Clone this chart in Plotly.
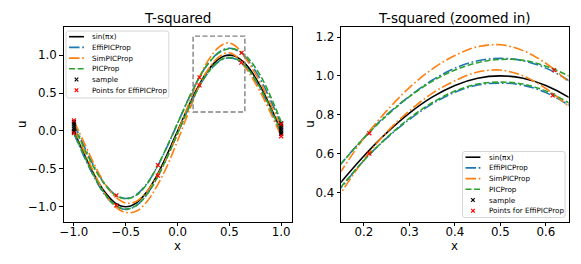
import plotly.graph_objects as go

# ---------------- data ----------------
X = [-1.0, -0.9, -0.8, -0.7, -0.6, -0.5, -0.4, -0.3, -0.2, -0.1, 0.0, 0.1, 0.15, 0.2,
     0.25, 0.3, 0.35, 0.4, 0.45, 0.5, 0.55, 0.6, 0.65, 0.7, 0.8, 0.9, 1.0]
EXACT = [0.0, -0.309, -0.588, -0.809, -0.951, -1.0, -0.951, -0.809, -0.588, -0.309, 0.0, 0.309,
         0.454, 0.588, 0.707, 0.809, 0.891, 0.951, 0.988, 1.0, 0.988, 0.951, 0.891, 0.809, 0.588, 0.309, 0.0]
EFFI_UP = [0.10, -0.206, -0.482, -0.701, -0.842, -0.89, -0.842, -0.701, -0.482, -0.206, 0.10, 0.406,
           0.549, 0.682, 0.80, 0.895, 0.978, 1.04, 1.078, 1.09, 1.078, 1.04, 0.977, 0.895, 0.68, 0.40, 0.09]
EFFI_LO = [-0.035, -0.344, -0.623, -0.844, -0.986, -1.035, -0.986, -0.844, -0.623, -0.344, -0.035, 0.28,
           0.425, 0.565, 0.68, 0.776, 0.856, 0.916, 0.953, 0.963, 0.952, 0.914, 0.85, 0.77, 0.55, 0.27, -0.04]
SIM_UP = [0.13, -0.16, -0.45, -0.70, -0.87, -0.95, -0.93, -0.81, -0.60, -0.34, -0.02, 0.33,
          0.51, 0.68, 0.82, 0.94, 1.035, 1.105, 1.15, 1.16, 1.13, 1.065, 0.97, 0.87, 0.635, 0.35, 0.05]
SIM_LO = [0.03, -0.27, -0.57, -0.83, -1.00, -1.075, -1.06, -0.94, -0.73, -0.46, -0.13, 0.225,
          0.40, 0.57, 0.71, 0.82, 0.91, 0.975, 1.02, 1.03, 1.0, 0.935, 0.845, 0.745, 0.51, 0.23, -0.07]
PIC_UP = [0.07, -0.23, -0.50, -0.71, -0.85, -0.895, -0.85, -0.71, -0.48, -0.20, 0.10, 0.405,
          0.548, 0.68, 0.795, 0.893, 0.972, 1.03, 1.068, 1.085, 1.08, 1.05, 1.0, 0.93, 0.73, 0.45, 0.12]
PIC_LO = [-0.02, -0.33, -0.61, -0.835, -0.98, -1.03, -0.985, -0.845, -0.625, -0.345, -0.035, 0.28,
          0.43, 0.565, 0.682, 0.782, 0.862, 0.922, 0.958, 0.968, 0.958, 0.922, 0.862, 0.782, 0.565, 0.29, -0.02]

SAMPLE_X = [-1.0, -1.0, -1.0, -1.0, -1.0, -1.0, 1.0, 1.0, 1.0, 1.0, 1.0, 1.0]
SAMPLE_Y = [0.12, 0.09, 0.06, 0.03, 0.0, -0.02, 0.10, 0.07, 0.04, 0.01, -0.02, -0.04]
PTS_X = [-1.0, -0.59, -0.19, 0.212, 0.618, 1.0, -1.0, -0.59, -0.19, 0.212, 0.615, 1.0]
PTS_Y = [0.14, -0.85, -0.45, 0.705, 1.03, 0.09, -0.03, -0.98, -0.59, 0.60, 0.90, -0.07]

ZOOM_X = [0.15, 0.65]
ZOOM_Y = [0.25, 1.25]
LEFT_X_RANGE = [-1.1, 1.1]
LEFT_Y_RANGE = [-1.1965, 1.3665]

LEFT_XTICKS = [-1.0, -0.5, 0.0, 0.5, 1.0]
LEFT_XTICKTEXT = ["\u22121.0", "\u22120.5", "0.0", "0.5", "1.0"]
LEFT_YTICKS = [-1.0, -0.5, 0.0, 0.5, 1.0]
LEFT_YTICKTEXT = ["\u22121.0", "\u22120.5", "0.0", "0.5", "1.0"]
RIGHT_XTICKS = [0.2, 0.3, 0.4, 0.5, 0.6]
RIGHT_XTICKTEXT = ["0.2", "0.3", "0.4", "0.5", "0.6"]
RIGHT_YTICKS = [0.4, 0.6, 0.8, 1.0, 1.2]
RIGHT_YTICKTEXT = ["0.4", "0.6", "0.8", "1.0", "1.2"]

TITLES = ["T-squared", "T-squared (zoomed in)"]
LEGEND_LABELS = ["sin(\u03c0x)", "EffiPICProp", "SimPICProp", "PICProp", "sample", "Points for EffiPICProp"]

# ---------------- styles ----------------
W, H = 581, 264
FONT = "DejaVu Sans"
BLUE, ORANGE, GREEN = "#1f77b4", "#ff7f0e", "#2ca02c"
LW = 1.6
DASHDOT = "10.5px,2.7px,1.7px,2.7px"
DASHED = "6px,2.6px"

PANELS = [
    dict(x0=60.0, x1=289.5, y0=27.3, y1=221.7, ulab=17.5),
    dict(x0=339.5, x1=568.5, y0=27.3, y1=221.7, ulab=307.3),
]


def fx(p):
    return p / W


def fy(p):
    return 1 - p / H


fig = go.Figure()

series = [
    (EXACT, "black", "solid"),
    (EFFI_UP, BLUE, DASHDOT), (EFFI_LO, BLUE, DASHDOT),
    (SIM_UP, ORANGE, DASHDOT), (SIM_LO, ORANGE, DASHDOT),
    (PIC_UP, GREEN, DASHED), (PIC_LO, GREEN, DASHED),
]

for i, (xa, ya) in enumerate([("x", "y"), ("x2", "y2")]):
    for vals, col, dash in series:
        fig.add_trace(go.Scatter(x=X, y=vals, mode="lines", xaxis=xa, yaxis=ya,
                                 line=dict(color=col, width=LW, dash=dash, shape="spline", smoothing=1.0),
                                 showlegend=False, hoverinfo="skip"))
    fig.add_trace(go.Scatter(x=SAMPLE_X, y=SAMPLE_Y, mode="markers", xaxis=xa, yaxis=ya,
                             marker=dict(symbol="x-thin", size=4, line=dict(color="black", width=1.1)),
                             showlegend=False, hoverinfo="skip"))
    fig.add_trace(go.Scatter(x=PTS_X, y=PTS_Y, mode="markers", xaxis=xa, yaxis=ya,
                             marker=dict(symbol="x-thin", size=4, line=dict(color="red", width=1.1)),
                             showlegend=False, hoverinfo="skip"))

axis_common = dict(showline=True, mirror=True, linecolor="black", linewidth=1.0,
                   ticks="outside", ticklen=3.5, tickwidth=1.0, tickcolor="black",
                   showgrid=False, zeroline=False,
                   tickfont=dict(family=FONT, size=11.8, color="black"))
xaxis_extra = dict(ticklabelstandoff=-4)

P0, P1 = PANELS
fig.update_layout(
    width=W, height=H, margin=dict(l=0, r=0, t=0, b=0),
    paper_bgcolor="white", plot_bgcolor="white", showlegend=False,
    xaxis=dict(domain=[fx(P0["x0"]), fx(P0["x1"])], anchor="y", range=LEFT_X_RANGE,
               tickvals=LEFT_XTICKS, ticktext=LEFT_XTICKTEXT, **axis_common, **xaxis_extra),
    yaxis=dict(domain=[fy(P0["y1"]), fy(P0["y0"])], anchor="x", range=LEFT_Y_RANGE,
               tickvals=LEFT_YTICKS, ticktext=LEFT_YTICKTEXT, **axis_common),
    xaxis2=dict(domain=[fx(P1["x0"]), fx(P1["x1"])], anchor="y2", range=ZOOM_X,
                tickvals=RIGHT_XTICKS, ticktext=RIGHT_XTICKTEXT, **axis_common, **xaxis_extra),
    yaxis2=dict(domain=[fy(P1["y1"]), fy(P1["y0"])], anchor="x2", range=ZOOM_Y,
                tickvals=RIGHT_YTICKS, ticktext=RIGHT_YTICKTEXT, **axis_common),
)

shapes = []
annotations = []

# zoom rectangle in the left panel
shapes.append(dict(type="rect", xref="x", yref="y", x0=ZOOM_X[0], x1=ZOOM_X[1], y0=ZOOM_Y[0], y1=ZOOM_Y[1],
                   line=dict(color="#808080", width=1.4, dash="5px,2.5px"), fillcolor="rgba(0,0,0,0)"))

# titles and axis labels
for i, P in enumerate(PANELS):
    cx = (P["x0"] + P["x1"]) / 2
    cy = (P["y0"] + P["y1"]) / 2
    annotations.append(dict(text=TITLES[i], x=fx(cx), y=fy(17.5), xref="paper", yref="paper",
                            xanchor="center", yanchor="middle", showarrow=False,
                            font=dict(family=FONT, size=13.5, color="black")))
    annotations.append(dict(text="x", x=fx(cx), y=fy(245.5), xref="paper", yref="paper",
                            xanchor="center", yanchor="middle", showarrow=False,
                            font=dict(family=FONT, size=11.8, color="black")))
    annotations.append(dict(text="u", x=fx(P["ulab"]), y=fy(cy), xref="paper", yref="paper",
                            xanchor="center", yanchor="middle", showarrow=False, textangle=-90,
                            font=dict(family=FONT, size=11.8, color="black")))


def legend(left, top, right, bottom):
    # rounded frame
    r = 2.5
    path = (f"M {fx(left + r)},{fy(top)} L {fx(right - r)},{fy(top)} Q {fx(right)},{fy(top)} {fx(right)},{fy(top + r)} "
            f"L {fx(right)},{fy(bottom - r)} Q {fx(right)},{fy(bottom)} {fx(right - r)},{fy(bottom)} "
            f"L {fx(left + r)},{fy(bottom)} Q {fx(left)},{fy(bottom)} {fx(left)},{fy(bottom - r)} "
            f"L {fx(left)},{fy(top + r)} Q {fx(left)},{fy(top)} {fx(left + r)},{fy(top)} Z")
    shapes.append(dict(type="path", xref="paper", yref="paper", path=path,
                       line=dict(color="#d0d0d0", width=0.9), fillcolor="rgba(255,255,255,0.85)"))
    row0 = top + 5.7
    step = 10.7
    hx0, hx1 = left + 3.0, left + 18.0
    tx = left + 24.5
    styles = [("black", "solid"), (BLUE, DASHDOT), (ORANGE, DASHDOT), (GREEN, DASHED)]
    for k, lab in enumerate(LEGEND_LABELS):
        yc = row0 + k * step
        if k < 4:
            col, dash = styles[k]
            shapes.append(dict(type="line", xref="paper", yref="paper", x0=fx(hx0), x1=fx(hx1),
                               y0=fy(yc), y1=fy(yc), line=dict(color=col, width=LW, dash=dash)))
        else:
            col = "black" if k == 4 else "red"
            mx = (hx0 + hx1) / 2
            s = 1.8
            for a, b in [((mx - s, yc - s), (mx + s, yc + s)), ((mx - s, yc + s), (mx + s, yc - s))]:
                shapes.append(dict(type="line", xref="paper", yref="paper", x0=fx(a[0]), y0=fy(a[1]),
                                   x1=fx(b[0]), y1=fy(b[1]), line=dict(color=col, width=1.1)))
        annotations.append(dict(text=lab, x=fx(tx), y=fy(yc), xref="paper", yref="paper",
                                xanchor="left", yanchor="middle", showarrow=False,
                                font=dict(family=FONT, size=7.2, color="black")))


legend(62.5, 31.0, 166.0, 98.0)
legend(461.7, 151.5, 565.0, 217.5)

fig.update_layout(shapes=shapes, annotations=annotations)
fig.write_html("out.html", config={"displayModeBar": False},
               post_script="document.body.style.margin='0';document.body.style.padding='0';")
